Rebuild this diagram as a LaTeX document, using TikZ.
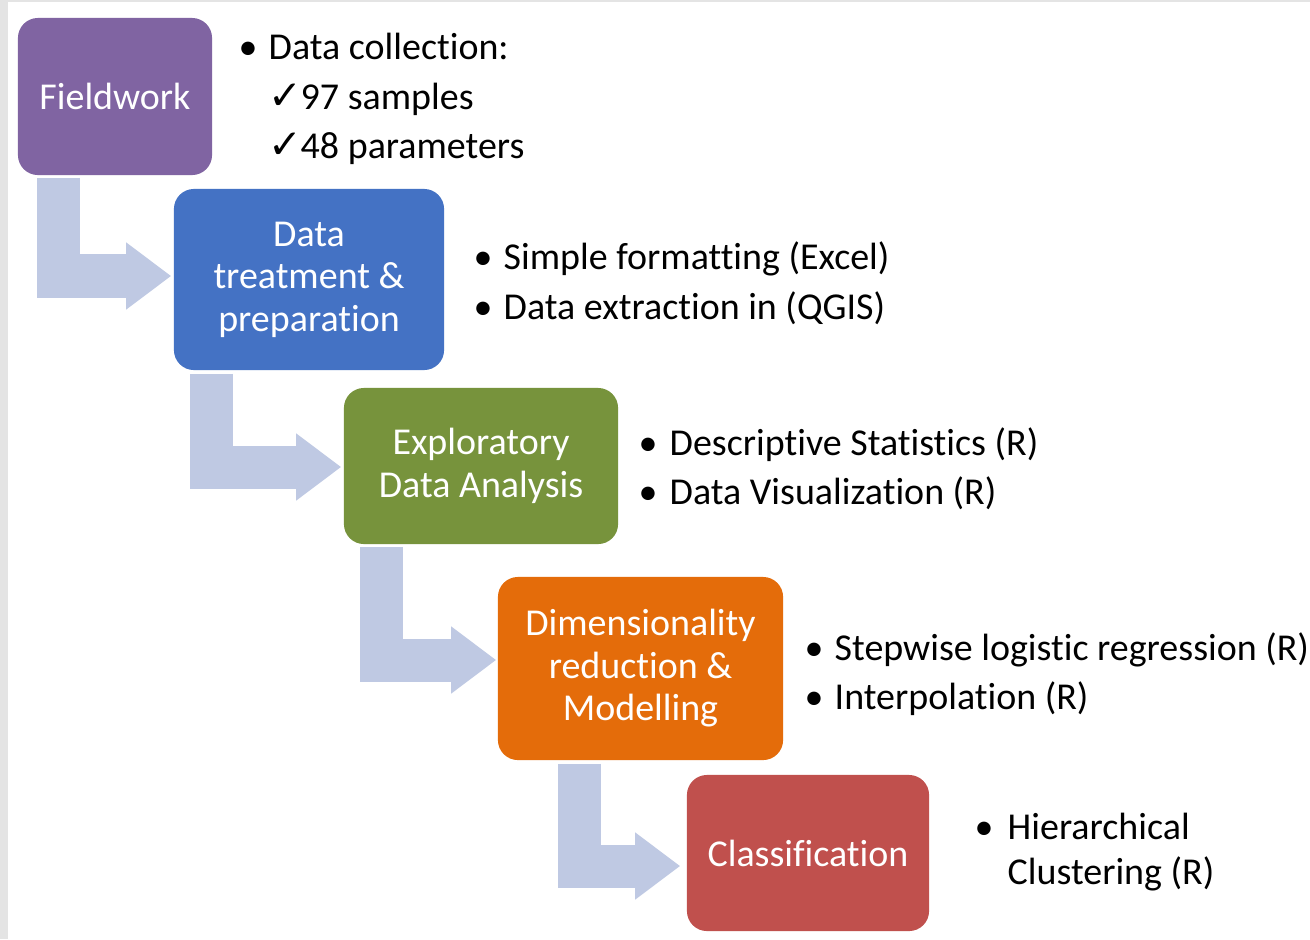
\documentclass[tikz,border=0pt]{standalone}
\usepackage{fontspec}
\setmainfont{Carlito}[Ligatures={NoCommon,NoRare,NoContextual}]
\newfontfamily\dejavu{DejaVu Sans}
\usetikzlibrary{arrows.meta}
\definecolor{fwcol}{HTML}{8064A2}
\definecolor{dtcol}{HTML}{4472C4}
\definecolor{edacol}{HTML}{77933C}
\definecolor{dimcol}{HTML}{E46C0A}
\definecolor{clscol}{HTML}{C0504D}
\definecolor{arrowcol}{HTML}{BFC9E3}
\definecolor{edgegray}{HTML}{E4E4E4}
\newcommand{\bul}[1]{\makebox[#1][l]{\textbullet}}
\newcommand{\chk}{\makebox[0.32cm][l]{{\dejavu\fontsize{11.5pt}{11.5pt}\selectfont ✓}}}
\newcommand{\ti}{t\kern0pt i}
\tikzset{
  box/.style={rounded corners=0.2cm, draw=none, text=white, align=center,
    inner sep=0pt, font=\fontsize{10.8pt}{12.1pt}\selectfont},
  item/.style={anchor=base west, inner sep=0pt, text=black,
    font=\fontsize{10.8pt}{12.1pt}\selectfont},
  flow/.style={draw=arrowcol, line width=0.43cm, line cap=butt, line join=miter,
    -{Triangle[length=0.45cm,width=0.64cm]}}
}
\begin{document}
\begin{tikzpicture}[x=0.01cm,y=-0.01cm]
\useasboundingbox (0,0) rectangle (1310,939);
\clip (0,0) rectangle (1310,939);
\fill[white] (0,0) rectangle (1310,939);
\fill[edgegray] (0,0) rectangle (8,939);
\fill[edgegray] (0,0) rectangle (1310,2);

% boxes
\node[box, fill=fwcol,  minimum width=1.94cm, minimum height=1.57cm] (fw)  at (115,96.5) {Fieldwork};
\node[box, fill=dtcol,  minimum width=2.70cm, minimum height=1.81cm] (dt)  at (309,279.5) {Data\\treatment \&\\prepara\ti on};
\node[box, fill=edacol, minimum width=2.74cm, minimum height=1.56cm] (eda) at (481,466) {Exploratory\\Data Analysis};
\node[box, fill=dimcol, minimum width=2.85cm, minimum height=1.83cm] (dim) at (640.5,668.5) {Dimensionality\\reduction \&\\Modelling};
\node[box, fill=clscol, minimum width=2.42cm, minimum height=1.56cm] (cls) at (808,853) {Classifica\ti on};

% arrows
\draw[flow] ([xshift=0.41cm,yshift=-0.02cm]fw.south west) |- ([xshift=-0.02cm,yshift=0.035cm]dt.west);
\draw[flow] ([xshift=0.385cm,yshift=-0.03cm]dt.south west) |- ([xshift=-0.02cm,yshift=-0.01cm]eda.west);
\draw[flow] ([xshift=0.38cm,yshift=-0.02cm]eda.south west) |- ([xshift=-0.01cm,yshift=0.085cm]dim.west);
\draw[flow] ([xshift=0.82cm,yshift=-0.03cm]dim.south west) |- ([xshift=-0.06cm,yshift=-0.13cm]cls.west);

% lists
\node[item] (fw1) at (238,59)  {\bul{0.30cm}Data collec\ti on:};
\node[item] (fw2) at (268,109) {\chk 97 samples};
\node[item] (fw3) at (268,158) {\chk 48 parameters};

\node[item] (dt1) at (473,269) {\bul{0.30cm}Simple format\ti ng (Excel)};
\node[item] (dt2) at (473,319) {\bul{0.30cm}Data extrac\ti on in (QGIS)};

\node[item] (ed1) at (638,455) {\bul{0.31cm}Descrip\ti ve Statis\ti cs (R)};
\node[item] (ed2) at (638,504) {\bul{0.31cm}Data Visualiza\ti on (R)};

\node[item] (dm1) at (804,660) {\bul{0.30cm}Stepwise logis\ti c regression (R)};
\node[item] (dm2) at (804,709) {\bul{0.30cm}Interpola\ti on (R)};

\node[item] (cl1) at (974,839) {\bul{0.33cm}Hierarchical};
\node[item] (cl2) at (1007,884) {Clustering (R)};
\end{tikzpicture}
\end{document}
